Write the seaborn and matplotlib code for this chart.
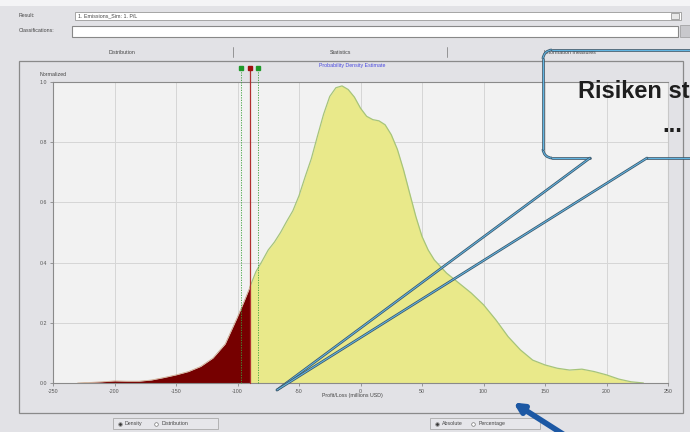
import matplotlib
matplotlib.use("Agg")
import matplotlib.pyplot as plt
from matplotlib.patches import Rectangle, Arc, FancyArrowPatch
import pandas as pd
import seaborn as sns

# ---------------------------------------------------------------------------
# data (Profit/Loss in millions USD, normalized density)
# ---------------------------------------------------------------------------
PL_VALUES = [-230, -220, -210, -200, -190, -180, -170, -160, -150, -140,
             -130, -120, -110, -100, -95, -90, -85, -80, -75, -70,
             -65, -60, -55, -50, -45, -40, -35, -30, -25, -20,
             -15, -10, -5, 0, 5, 10, 15, 20, 25, 30,
             35, 40, 45, 50, 55, 60, 70, 80, 90, 100,
             110, 120, 130, 140, 150, 160, 170, 180, 190, 200,
             210, 220, 230]
DENSITY = [0.000, 0.002, 0.004, 0.007, 0.006, 0.006, 0.010, 0.018, 0.027, 0.038,
           0.055, 0.083, 0.130, 0.220, 0.268, 0.318, 0.370, 0.405, 0.442, 0.468,
           0.500, 0.537, 0.572, 0.622, 0.685, 0.745, 0.820, 0.893, 0.952, 0.981,
           0.987, 0.975, 0.950, 0.913, 0.886, 0.875, 0.871, 0.858, 0.825, 0.776,
           0.708, 0.630, 0.553, 0.487, 0.442, 0.409, 0.365, 0.332, 0.299, 0.260,
           0.210, 0.154, 0.110, 0.076, 0.060, 0.049, 0.043, 0.046, 0.038, 0.027,
           0.013, 0.004, 0.000]
VAR_CUTOFF = -90
CONF_BOUNDS = [-97, -83]
X_TICKS = [-250, -200, -150, -100, -50, 0, 50, 100, 150, 200, 250]
Y_TICKS = [0.0, 0.2, 0.4, 0.6, 0.8, 1.0]

W, H = 690, 432
BG = "#e2e2e6"

sns.set_theme(style="white")
plt.rcParams["font.family"] = ["Liberation Sans", "DejaVu Sans"]

df = pd.DataFrame({"pl": PL_VALUES, "density": DENSITY})
tail = df[df["pl"] <= VAR_CUTOFF]
body = df[df["pl"] >= VAR_CUTOFF]

fig = plt.figure(figsize=(W / 100, H / 100), dpi=100, facecolor=BG)

# --- background UI layer in pixel coordinates ------------------------------
ui = fig.add_axes([0, 0, 1, 1], zorder=0)
ui.set_xlim(0, W)
ui.set_ylim(H, 0)
ui.axis("off")
ui.add_patch(Rectangle((0, 0), W, 6, facecolor="#f4f4f6", edgecolor="none"))

small = dict(fontsize=3.8, color="#444444", va="center")
ui.text(19, 15.5, "Result:", **small)
ui.add_patch(Rectangle((75, 12), 606, 8, facecolor="white", edgecolor="#999999", lw=0.6))
ui.text(78, 16, "1. Emissions_Sim: 1. P/L", **small)
ui.add_patch(Rectangle((671, 13), 8, 6, facecolor="#e8e8e8", edgecolor="#888888", lw=0.5))
ui.text(19, 30, "Classifications:", **small)
ui.add_patch(Rectangle((72, 26), 606, 11, facecolor="white", edgecolor="#888888", lw=0.8))
ui.add_patch(Rectangle((680, 25), 10, 12, facecolor="#c8c8cc", edgecolor="#999999", lw=0.5))

ui.text(122, 52, "Distribution", ha="center", **small)
ui.text(340, 52, "Statistics", ha="center", **small)
ui.text(570, 52, "Information measures", ha="center", **small)
for sx in [233, 447]:
    ui.plot([sx, sx], [47, 57], color="#888888", lw=0.6)

ui.add_patch(Rectangle((19, 61), 664, 352, facecolor="none", edgecolor="#8a8a8a", lw=0.9))
ui.text(352, 66, "Probability Density Estimate", ha="center", fontsize=3.8,
        color="#4a4ae0", va="center")
ui.text(40, 74, "Normalized", fontsize=3.8, color="#444444", va="center")
ui.text(352, 396, "Profit/Loss (millions USD)", ha="center", **small)

# radio boxes below the chart
for (x0, x1), labels in [((113, 218), ["Density", "Distribution"]),
                         ((430, 540), ["Absolute", "Percentage"])]:
    ui.add_patch(Rectangle((x0, 418), x1 - x0, 11, facecolor="#e6e6ea",
                           edgecolor="#aaaaaa", lw=0.6))
    ui.plot(x0 + 7, 423.5, "o", ms=2.6, mfc="white", mec="#777777", mew=0.5)
    ui.plot(x0 + 7, 423.5, "o", ms=1.0, color="#333333")
    ui.text(x0 + 12, 423.5, labels[0], **small)
    ui.plot(x0 + 43, 423.5, "o", ms=2.6, mfc="white", mec="#777777", mew=0.5)
    ui.text(x0 + 49, 423.5, labels[1], **small)

# --- the density chart -----------------------------------------------------
ax = fig.add_axes([53 / W, 1 - 383 / H, 615 / W, 301 / H], zorder=1)
ax.set_facecolor("#f2f2f2")
ax.fill_between(tail["pl"], tail["density"], color="#760000", lw=0)
ax.fill_between(body["pl"], body["density"], color="#e9e98a", lw=0)
sns.lineplot(data=body, x="pl", y="density", color="#a6c47a", lw=0.9, ax=ax)
sns.lineplot(data=tail, x="pl", y="density", color="#c9a080", lw=0.5, ax=ax)

ax.set_xlim(-250, 250)
ax.set_ylim(0, 1.0)
ax.set_xticks(X_TICKS)
ax.set_yticks(Y_TICKS)
ax.set_xticklabels([str(t) for t in X_TICKS])
ax.set_yticklabels([f"{t:.1f}" for t in Y_TICKS])
ax.set_xlabel("")
ax.set_ylabel("")
ax.grid(True, color="#d6d6d6", lw=0.7)
ax.set_axisbelow(True)
ax.tick_params(labelsize=3.8, labelcolor="#555555", length=2, width=0.5,
               color="#777777", pad=2, bottom=True, left=True)
for s in ax.spines.values():
    s.set_color("#8a8a8a")
    s.set_linewidth(0.8)
ax.spines["right"].set_color("#c8c8c8")

# VaR line with confidence bounds and the little markers above the frame
top = 1.047
ax.plot([VAR_CUTOFF, VAR_CUTOFF], [0, top], color="#b03030", lw=0.9, clip_on=False, zorder=5)
for cb in CONF_BOUNDS:
    ax.plot([cb, cb], [0, top], color="#3aa03a", lw=0.6, ls=(0, (1.5, 1.5)),
            clip_on=False, zorder=5)
    ax.plot(cb, top, "s", ms=3.2, color="#1f9a2a", clip_on=False, zorder=6)
ax.plot(VAR_CUTOFF, top, "s", ms=3.2, color="#a01010", clip_on=False, zorder=6)

# --- overlay: speech bubble and arrow --------------------------------------
ov = fig.add_axes([0, 0, 1, 1], zorder=2)
ov.set_xlim(0, W)
ov.set_ylim(H, 0)
ov.axis("off")
ov.patch.set_alpha(0)

r = 9
segments = [
    ([543 + r, 700], [50, 50]),
    ([543, 543], [50 + r, 158 - r]),
    ([543 + r, 590], [158, 158]),
    ([647, 700], [158, 158]),
    ([590, 277], [158, 390]),
    ([647, 277], [158, 390]),
]
for xs, ys in segments:
    ov.plot(xs, ys, color="#3d5a6e", lw=1.9, solid_capstyle="round")
    ov.plot(xs, ys, color="#63b8e6", lw=0.7, solid_capstyle="round")
for center, t1, t2 in [((543 + r, 50 + r), 180, 270), ((543 + r, 158 - r), 90, 180)]:
    ov.add_patch(Arc(center, 2 * r, 2 * r, theta1=t1, theta2=t2, color="#3d5a6e", lw=1.9))
    ov.add_patch(Arc(center, 2 * r, 2 * r, theta1=t1, theta2=t2, color="#63b8e6", lw=0.7))

ov.text(578, 91, "Risiken st", fontsize=17, fontweight="bold", color="#1e1e1e",
        va="center", ha="left", clip_on=False)
ov.text(662, 126, "...", fontsize=17, fontweight="bold", color="#1e1e1e",
        va="center", ha="left")

ov.add_patch(FancyArrowPatch((566, 436), (511, 401), arrowstyle="-|>",
                             mutation_scale=14, lw=4, color="#1c58a4"))

fig.savefig("out.png", dpi=100, facecolor=BG)
plt.close(fig)
